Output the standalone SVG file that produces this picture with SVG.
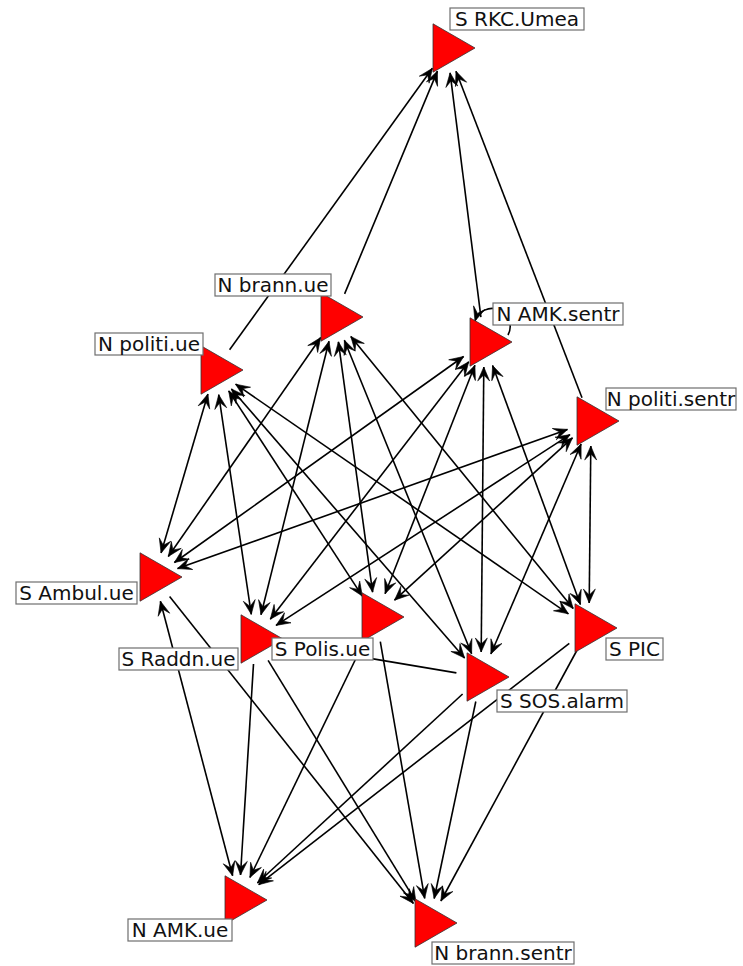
<svg xmlns="http://www.w3.org/2000/svg" xmlns:xlink="http://www.w3.org/1999/xlink" width="743" height="966" viewBox="0 0 743 966">
<style>
.e{stroke:#000;stroke-width:1.6;fill:none}
.m{marker-end:url(#ah)}
.mm{marker-start:url(#ah);marker-end:url(#ah)}
.tri{fill:#ff0000;stroke:#333;stroke-width:0.8}
.lb{fill:#fff;stroke:#6e6e6e;stroke-width:1.2}
.tx{font-family:"DejaVu Sans",sans-serif;font-size:20px;fill:#111;text-anchor:middle}
</style>
<defs>
<marker id="ah" viewBox="-15 -7 16 14" refX="0" refY="0" markerWidth="16" markerHeight="14" orient="auto-start-reverse" markerUnits="userSpaceOnUse">
<path d="M0,0 L-14,-6 L-8,0 L-14,6 Z" fill="#000" stroke="#000" stroke-width="0.6" stroke-linejoin="miter"/>
</marker>
<path id="tri" class="tri" d="M28,0 L-14,-24.2 L-14,24.2 Z"/>
</defs>
<rect width="743" height="966" fill="#fff"/>
<g id="edges">
<line class="e m" x1="229.6" y1="349.7" x2="432.4" y2="68.3"/>
<line class="e m" x1="344.6" y1="293.9" x2="437.4" y2="71.1"/>
<line class="e m" x1="480.9" y1="317.2" x2="450.1" y2="72.8"/>
<line class="e m" x1="582" y1="397.7" x2="456" y2="71.3"/>
<line class="e mm" x1="207.9" y1="394" x2="161.1" y2="553"/>
<line class="e mm" x1="218.7" y1="394.7" x2="251.3" y2="614.3"/>
<line class="e mm" x1="228.7" y1="390.9" x2="362.3" y2="596.1"/>
<line class="e mm" x1="231.4" y1="388.9" x2="464.6" y2="658.1"/>
<line class="e mm" x1="235.6" y1="384.2" x2="568.4" y2="613.8"/>
<line class="e mm" x1="320.7" y1="337.5" x2="168.3" y2="556.5"/>
<line class="e mm" x1="329" y1="341.3" x2="261" y2="614.7"/>
<line class="e mm" x1="338.4" y1="341.8" x2="372.6" y2="592.2"/>
<line class="e mm" x1="344.4" y1="340.2" x2="471.6" y2="653.8"/>
<line class="e mm" x1="350.8" y1="336.4" x2="573.2" y2="608.6"/>
<line class="e mm" x1="463.6" y1="356.5" x2="174.4" y2="562.5"/>
<line class="e mm" x1="468.7" y1="361.8" x2="270.3" y2="619.2"/>
<line class="e mm" x1="474.9" y1="365.3" x2="385.1" y2="593.7"/>
<line class="e mm" x1="483.8" y1="367" x2="481.2" y2="652"/>
<line class="e mm" x1="492.6" y1="365.5" x2="580.4" y2="604.5"/>
<line class="e mm" x1="567.5" y1="429.4" x2="177.5" y2="568.6"/>
<line class="e mm" x1="570" y1="434.6" x2="276" y2="625.4"/>
<line class="e mm" x1="572.5" y1="437.8" x2="394.5" y2="600.2"/>
<line class="e mm" x1="581.1" y1="444" x2="490.9" y2="654"/>
<line class="e mm" x1="590.8" y1="446" x2="589.2" y2="603"/>
<line class="e mm" x1="160.4" y1="601.2" x2="232.6" y2="875.8"/>
<line class="e m" x1="169.6" y1="596.6" x2="413.4" y2="903.4"/>
<line class="e m" x1="253.5" y1="664" x2="240.5" y2="875"/>
<line class="e m" x1="268.1" y1="660.3" x2="415.9" y2="901.7"/>
<line class="e m" x1="365.1" y1="639.5" x2="249.9" y2="877.5"/>
<line class="e m" x1="380.3" y1="641.6" x2="424.7" y2="898.4"/>
<line class="e m" x1="462.6" y1="694" x2="257.4" y2="883"/>
<line class="e m" x1="475.8" y1="701.5" x2="434.2" y2="898.5"/>
<line class="e m" x1="569.3" y1="643.3" x2="258.7" y2="884.7"/>
<line class="e m" x1="577.1" y1="650" x2="440.9" y2="901"/>
<line class="e m" x1="456.4" y1="672.9" x2="279.6" y2="643.1"/>
<path class="e m" d="M508,335 A18,18 0 1,0 475,321"/>
</g>
<g id="n-rkc"><use xlink:href="#tri" x="447" y="48"/><rect class="lb" x="450" y="8" width="134" height="22"/><text class="tx" x="517" y="26">S RKC.Umea</text></g>
<g id="n-brann-ue"><use xlink:href="#tri" x="335" y="317"/><rect class="lb" x="215" y="274" width="116" height="22"/><text class="tx" x="273" y="292">N brann.ue</text></g>
<g id="n-amk-sentr"><use xlink:href="#tri" x="484" y="342"/><rect class="lb" x="493" y="303" width="130" height="22"/><text class="tx" x="558" y="321">N AMK.sentr</text></g>
<g id="n-politi-sentr"><use xlink:href="#tri" x="591" y="421"/><rect class="lb" x="606" y="388" width="130" height="22"/><text class="tx" x="671" y="406">N politi.sentr</text></g>
<g id="n-politi-ue"><use xlink:href="#tri" x="215" y="370"/><rect class="lb" x="95" y="333" width="108" height="22"/><text class="tx" x="149" y="351">N politi.ue</text></g>
<g id="n-ambul"><use xlink:href="#tri" x="154" y="577"/><rect class="lb" x="16" y="582" width="121" height="22"/><text class="tx" x="76.5" y="600">S Ambul.ue</text></g>
<g id="n-raddn"><use xlink:href="#tri" x="255" y="639"/><rect class="lb" x="119" y="648" width="119" height="22"/><text class="tx" x="178.5" y="666">S Raddn.ue</text></g>
<g id="n-polis"><use xlink:href="#tri" x="376" y="617"/><rect class="lb" x="272" y="638" width="101" height="22"/><text class="tx" x="322.5" y="656">S Polis.ue</text></g>
<g id="n-pic"><use xlink:href="#tri" x="589" y="628"/><rect class="lb" x="606" y="638" width="57" height="22"/><text class="tx" x="634.5" y="656">S PIC</text></g>
<g id="n-sos"><use xlink:href="#tri" x="481" y="677"/><rect class="lb" x="497" y="690" width="130" height="22"/><text class="tx" x="562" y="708">S SOS.alarm</text></g>
<g id="n-amk-ue"><use xlink:href="#tri" x="239" y="900"/><rect class="lb" x="128" y="919" width="104" height="22"/><text class="tx" x="180" y="937">N AMK.ue</text></g>
<g id="n-brann-sentr"><use xlink:href="#tri" x="429" y="923"/><rect class="lb" x="432" y="942" width="142" height="22"/><text class="tx" x="503" y="960">N brann.sentr</text></g>
</svg>
